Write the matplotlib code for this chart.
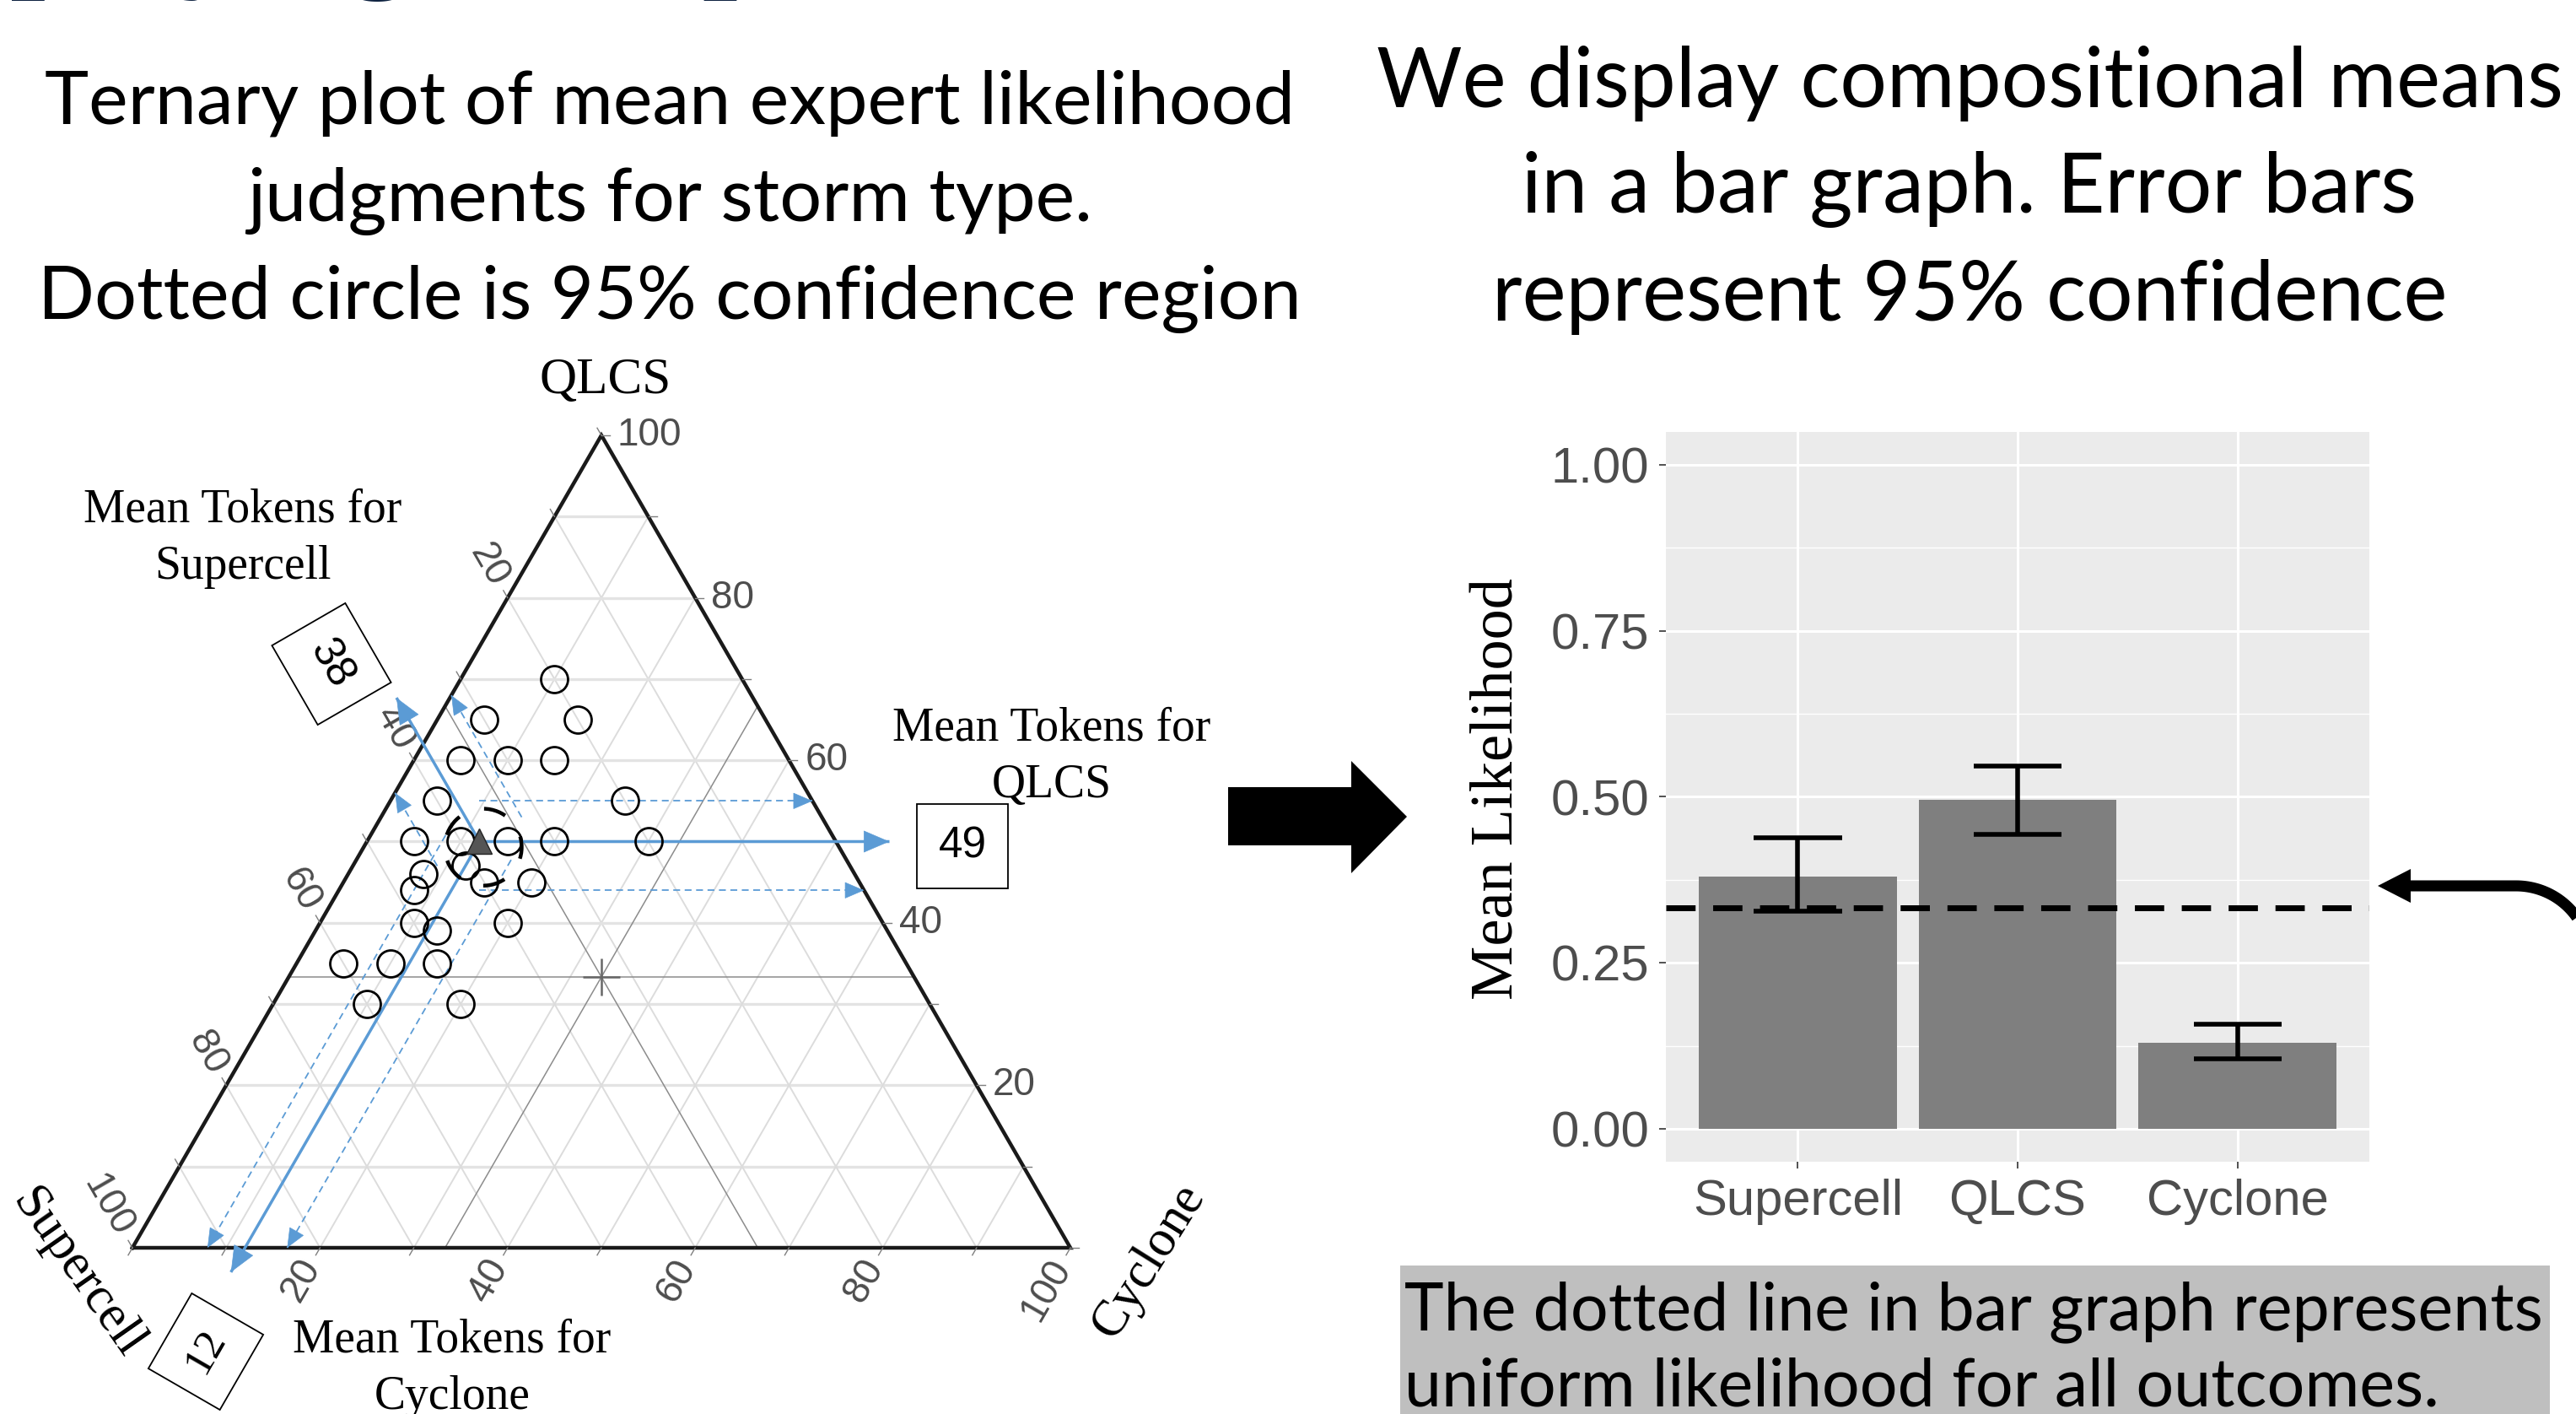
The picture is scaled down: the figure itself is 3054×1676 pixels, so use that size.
import numpy as np
import matplotlib
matplotlib.use("Agg")
import matplotlib.pyplot as plt
from matplotlib.patches import Polygon, Rectangle, Circle

# ---------------- data ----------------
tern_supercell = [20, 30, 20, 35, 30, 25, 40, 20, 45, 40, 35, 30, 20, 46, 41, 48, 40, 35, 50, 48, 40, 60, 55, 50, 60, 50]
tern_qlcs      = [70, 65, 65, 60, 60, 60, 55, 55, 50, 50, 50, 50, 50, 46, 47, 44, 45, 45, 40, 39, 40, 35, 35, 35, 30, 30]
tern_cyclone   = [10, 5, 15, 5, 10, 15, 5, 25, 5, 10, 15, 20, 30, 8, 12, 8, 15, 20, 10, 13, 20, 5, 10, 15, 10, 20]

mean_supercell, mean_qlcs, mean_cyclone = 38, 50, 12
ci_supercell = [32, 44]
ci_qlcs = [44, 55]
ci_cyclone = [8, 16.5]
token_supercell, token_qlcs, token_cyclone = 38, 49, 12
tern_tick_labels = [20, 40, 60, 80, 100]

bar_categories = ["Supercell", "QLCS", "Cyclone"]
bar_means = [0.38, 0.495, 0.13]
bar_lower = [0.328, 0.443, 0.106]
bar_upper = [0.439, 0.547, 0.158]
uniform_level = 1 / 3
bar_yticks = [0.00, 0.25, 0.50, 0.75, 1.00]

slide_title = "Displaying Compositional Data"
left_caption = ["Ternary plot of mean expert likelihood",
                "judgments for storm type.",
                "Dotted circle is 95% confidence region"]
right_caption = ["We display compositional means",
                 "in a bar graph. Error bars",
                 "represent 95% confidence"]
bottom_caption = ["The dotted line in bar graph represents",
                  "uniform likelihood for all outcomes."]

# ---------------- figure ----------------
W, H, DPI = 3054, 1676, 100
fig = plt.figure(figsize=(W / DPI, H / DPI), dpi=DPI)
fig.patch.set_facecolor("white")

SERIF = ["Liberation Serif", "DejaVu Serif"]
SANS = ["Liberation Sans", "DejaVu Sans"]
CAP = ["Lato", "DejaVu Sans"]
BLUE = "#5b9bd5"

ov = fig.add_axes([0, 0, 1, 1])
ov.set_xlim(0, W)
ov.set_ylim(H, 0)
ov.axis("off")

renderer = fig.canvas.get_renderer()


def text_width(s, fs, **kw):
    probe = ov.text(0, 0, s, fontsize=fs, **kw)
    w = probe.get_window_extent(renderer).width
    probe.remove()
    return w


def fit_block(lines, x, baselines, target_w, ha):
    fs = 50 * target_w / text_width(lines[0], 50, family=CAP)
    for ln, yb in zip(lines, baselines):
        ov.text(x, yb, ln, fontsize=fs, ha=ha, va="baseline", family=CAP, color="black")


# slide title (mostly cropped off at top; only descenders visible)
tkw = dict(family=SERIF, fontweight="bold")
tfs = 100 * 200 / text_width("yin", 100, **tkw)
tx0 = 412 - text_width("Displayin", tfs, **tkw)
ov.text(tx0, -31, slide_title, fontsize=tfs, ha="left", va="baseline",
        color="#0f2341", **tkw)

fit_block(left_caption, 794, [146, 262, 378], 1482, "center")
fit_block(right_caption, 2335, [127, 252, 380], 1406, "center")

# bottom caption box
ov.add_patch(Rectangle((1660, 1500), 1363, 200, facecolor="#bfbfbf", edgecolor="none"))
fit_block(bottom_caption, 1665, [1576, 1666], 1348, "left")

# big black block arrow
ov.add_patch(Polygon([[1456, 933], [1602, 933], [1602, 902], [1668, 968],
                      [1602, 1035], [1602, 1002], [1456, 1002]], closed=True,
                     facecolor="black", edgecolor="none"))

# curved arrow at right
R = 88
cx, cy = 2983, 1050 + R
t = np.linspace(0, np.pi / 2, 50)
ax_x = np.concatenate([[2852], cx + R * np.sin(t), [cx + R]])
ax_y = np.concatenate([[1050], cy - R * np.cos(t), [cy + 60]])
ov.plot(ax_x, ax_y, color="black", lw=9.4, solid_capstyle="butt", solid_joinstyle="round")
ov.add_patch(Polygon([[2819, 1050], [2858, 1030], [2858, 1070]], closed=True,
                     facecolor="black", edgecolor="none"))

# ---------------- ternary ----------------
K = 11.12
X0, Y0 = 157, 1479
tax = fig.add_axes([0, 0, 1, 1])
tax.set_xlim(-X0 / K, (W - X0) / K)
tax.set_ylim(-(H - Y0) / K, Y0 / K)
tax.axis("off")
tax.patch.set_alpha(0)
R3 = np.sqrt(3) / 2


def txy(s, q, c):
    s = np.asarray(s, float)
    q = np.asarray(q, float)
    c = np.asarray(c, float)
    tot = s + q + c
    return 100 * (c + q / 2) / tot, 100 * q * R3 / tot


# grid
for v in range(10, 100, 10):
    x, y = txy([100 - v, 0], [v, v], [0, 100 - v])
    tax.plot(x, y, color="#e3e3e3", lw=2.4, zorder=1)
    x, y = txy([100 - v, 0], [0, 100 - v], [v, v])
    tax.plot(x, y, color="#dcdcdc", lw=1.4, zorder=1)
    x, y = txy([v, v], [0, 100 - v], [100 - v, 0])
    tax.plot(x, y, color="#dcdcdc", lw=1.4, zorder=1)

# centroid lines
c3 = 100 / 3
for seg in ([[100 - c3, 0], [c3, c3], [0, 100 - c3]],
            [[100 - c3, 0], [0, 100 - c3], [c3, c3]],
            [[c3, c3], [0, 100 - c3], [100 - c3, 0]]):
    x, y = txy(*seg)
    tax.plot(x, y, color="#8c8c8c", lw=1.1, zorder=2)
cxm, cym = txy(c3, c3, c3)
tax.plot([cxm], [cym], marker="+", ms=32, mew=1.8, color="#666666", zorder=2)

# border
x, y = txy([100, 0, 0, 100], [0, 100, 0, 0], [0, 0, 100, 0])
tax.plot(x, y, color="#1a1a1a", lw=3.2, zorder=3, solid_joinstyle="miter")

# ticks and labels
dQ = np.array([1.0, 0.0])
dS = np.array([-0.5, R3])
dC = np.array([-0.5, -R3])
TL, LO = 0.9, 1.7
TFS = 33
for v in range(0, 101, 10):
    for (s, q, c), d, axis in (((0, v, 100 - v), dQ, "Q"),
                               ((v, 100 - v, 0), dS, "S"),
                               ((100 - v, 0, v), dC, "C")):
        px, py = txy(s, q, c)
        tax.plot([px, px + TL * d[0]], [py, py + TL * d[1]], color="#7f7f7f", lw=1.0, zorder=3)
        if v in tern_tick_labels:
            lx, ly = px + LO * d[0], py + LO * d[1]
            if axis == "Q":
                tax.text(lx, ly, str(v), ha="left", va="center", fontsize=TFS,
                         family=SANS, color="#4d4d4d")
            elif axis == "S":
                tax.text(lx, ly, str(v), ha="right", va="center", fontsize=TFS, rotation=-60,
                         rotation_mode="anchor", family=SANS, color="#4d4d4d")
            else:
                tax.text(lx, ly, str(v), ha="right", va="center", fontsize=TFS, rotation=60,
                         rotation_mode="anchor", family=SANS, color="#4d4d4d")

# axis titles
tax.text(50.4, 92.4, "QLCS", ha="center", va="center", fontsize=44, family=SERIF)
tax.text(-5.9, -2.8, "Supercell", ha="center", va="center", fontsize=44, family=SERIF, rotation=-55)
tax.text(108.4, -1.4, "Cyclone", ha="center", va="center", fontsize=44, family=SERIF, rotation=58)

# points
px, py = txy(tern_supercell, tern_qlcs, tern_cyclone)
tax.plot(px, py, "o", ms=23, mfc="none", mec="black", mew=2.0, zorder=6)

# mean & confidence region
mx, my = txy(mean_supercell, mean_qlcs, mean_cyclone)
mx, my = float(mx), float(my)
tax.add_patch(Circle((mx + 0.4, my - 0.6), 4.1, fill=False, ec="black", lw=3.2,
                     ls=(0, (6, 7)), zorder=7))
tax.plot([mx], [my], marker="^", ms=21, color="#555555", mec="#222222", mew=1, zorder=8)


def arrow(p0, p1, solid):
    lw = 2.5 if solid else 1.3
    ls = "-" if solid else (0, (4.5, 3))
    tax.plot([p0[0], p1[0]], [p0[1], p1[1]], color=BLUE, lw=lw, ls=ls, zorder=5,
             solid_capstyle="butt")
    d = np.array(p1) - np.array(p0)
    d = d / np.hypot(*d)
    back = 1.5 if solid else 1.2
    tax.annotate("", xy=p1, xytext=(p1[0] - back * d[0], p1[1] - back * d[1]),
                 arrowprops=dict(arrowstyle="-|>,head_length=0.7,head_width=0.3",
                                 mutation_scale=30 if solid else 22,
                                 color=BLUE, lw=0.5, shrinkA=0, shrinkB=0), zorder=5)


def foot(p0, d, m):
    p0 = np.array(p0)
    return p0 + np.dot(np.array(m) - p0, d) * d


m = np.array([mx, my])
# QLCS
e = np.array(txy(0, mean_qlcs, 100 - mean_qlcs), float)
arrow(m, e + 5.7 * dQ, True)
for v in ci_qlcs:
    e = np.array(txy(0, v, 100 - v), float)
    arrow(foot(e, dQ, m), e, False)
# Supercell
e = np.array(txy(mean_supercell, 100 - mean_supercell, 0), float)
arrow(m, e + 5.7 * dS, True)
for v in ci_supercell:
    e = np.array(txy(v, 100 - v, 0), float)
    arrow(foot(e, dS, m), e, False)
# Cyclone
e = np.array(txy(100 - mean_cyclone, 0, mean_cyclone), float)
arrow(m, e + 3.0 * dC, True)
for v in ci_cyclone:
    e = np.array(txy(100 - v, 0, v), float)
    arrow(foot(e, dC, m), e, False)

# token labels
box = dict(boxstyle="square,pad=0.5", fc="white", ec="black", lw=1.3)
ov.text(393, 787, str(token_supercell), rotation=-60, ha="center", va="center",
        fontsize=37, family=SANS, bbox=box, zorder=10)
ov.text(1141, 1003, str(token_qlcs), ha="center", va="center",
        fontsize=37, family=SANS, bbox=box, zorder=10)
ov.text(244, 1602, str(token_cyclone), rotation=60, ha="center", va="center",
        fontsize=37, family=SERIF, bbox=box, zorder=10)

for (x, y0, name) in ((288, 618, "Supercell"), (1247, 877, "QLCS"), (536, 1602, "Cyclone")):
    ov.text(x, y0, "Mean Tokens for", ha="center", va="baseline", fontsize=40, family=SERIF)
    ov.text(x, y0 + 68, name, ha="center", va="baseline", fontsize=40, family=SERIF)

# ---------------- bar chart ----------------
bax = fig.add_axes([1975 / W, 1 - 1377.4 / H, (2809 - 1975) / W, (1377.4 - 511.6) / H])
xpos = np.arange(1, len(bar_categories) + 1)
bax.set_facecolor("#ebebeb")
bax.bar(xpos, bar_means, width=0.9, color="#7f7f7f", zorder=2)
bax.vlines(xpos, bar_lower, bar_upper, color="black", lw=4, zorder=4)
bax.hlines(bar_lower, xpos - 0.2, xpos + 0.2, color="black", lw=4, zorder=4)
bax.hlines(bar_upper, xpos - 0.2, xpos + 0.2, color="black", lw=4, zorder=4)
bax.axhline(uniform_level, color="black", lw=5, ls=(0, (5, 3)), zorder=3)
bax.set_xlim(0.4, 3.6)
bax.set_ylim(-0.05, 1.05)
bax.set_yticks(bar_yticks)
bax.set_yticklabels([f"{v:.2f}" for v in bar_yticks])
bax.set_yticks([0.125, 0.375, 0.625, 0.875], minor=True)
bax.set_xticks(xpos)
bax.set_xticklabels(bar_categories)
bax.grid(which="major", color="white", lw=2.2)
bax.grid(which="minor", axis="y", color="white", lw=1.0)
bax.set_axisbelow(True)
for sp in bax.spines.values():
    sp.set_visible(False)
bax.tick_params(axis="both", which="major", length=6, width=1.2, color="#333333",
                labelsize=43, labelcolor="#4d4d4d", pad=8)
bax.tick_params(axis="y", which="minor", length=0)
for lab in bax.get_xticklabels() + bax.get_yticklabels():
    lab.set_family(SANS)
ov.text(1776, 935, "Mean Likelihood", rotation=90, ha="center", va="center",
        fontsize=52, family=SERIF)

fig.savefig("out.png", dpi=DPI, facecolor="white")
